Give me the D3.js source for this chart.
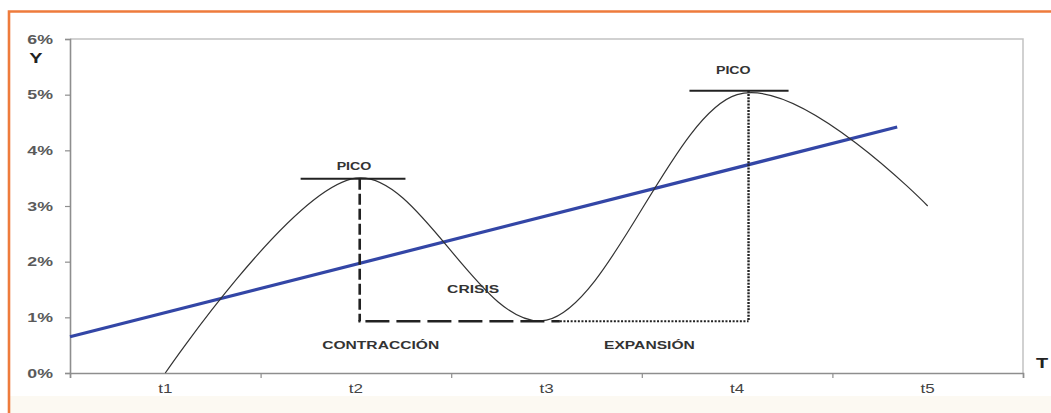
<!DOCTYPE html>
<html>
<head>
<meta charset="utf-8">
<script src="https://cdn.jsdelivr.net/npm/d3@7"></script>
<style>
  html, body { margin: 0; padding: 0; background: #ffffff; }
  svg { display: block; }
  text { font-family: "Liberation Sans", Arial, sans-serif; }
</style>
</head>
<body>
<svg id="chart" width="1051" height="413"></svg>
<script>
// ---- data ----
const categories = ["t1", "t2", "t3", "t4", "t5"];
const cycleValues = [0, 3.5, 0.95, 5.0, 3.0];          // % (smoothed line)
const trendT = [0.5, 4.84];                            // position along T (category index, 1 = t1)
const trendValues = [0.65, 4.42];                      // %
const yTicks = [0, 1, 2, 3, 4, 5, 6];
const yTickLabels = ["0%", "1%", "2%", "3%", "4%", "5%", "6%"];

// peak markers (t position, value) and trough level
const peakT = [2.02, 4.06];
const peakV = [3.49, 5.07];
const peakBarCenter = [1.985, 4.01];
const peakBarHalf = [0.275, 0.26];
const troughV = 0.93;
const contractionEndT = 3.07;

// annotations
const annText = ["PICO", "PICO", "CRISIS", "CONTRACCIÓN", "EXPANSIÓN"];
const annT = [1.99, 3.98, 2.615, 2.13, 3.54];
const annV = [3.65, 5.37, 1.44, 0.44, 0.44];
const annSize = [10, 10, 11, 11, 11];

// ---- layout ----
const svg = d3.select("#chart");
const W = 1051, H = 413;
const plot = { left: 70, right: 1023, top: 39, bottom: 373 };
const SX = 1.42; // horizontal text stretch of the original

const xBand = d3.scaleBand().domain(categories).range([plot.left, plot.right]);
const x = d3.scaleLinear().domain([0.5, categories.length + 0.5]).range([plot.left, plot.right]);
const y = d3.scaleLinear().domain([0, 6]).range([plot.bottom, plot.top]);

// background pieces
svg.append("rect").attr("x", 0).attr("y", 0).attr("width", W).attr("height", H).attr("fill", "#ffffff");
svg.append("rect").attr("x", 10).attr("y", 396).attr("width", W - 10).attr("height", H - 396).attr("fill", "#fcf9f2");

// orange frame
svg.append("path")
  .attr("d", `M9,${H} L9,11.5 L${W},11.5`)
  .attr("fill", "none").attr("stroke", "#ee7b3c").attr("stroke-width", 2.6);

// plot frame (top / right)
svg.append("path")
  .attr("d", `M${plot.left},${plot.top} L${plot.right},${plot.top} L${plot.right},${plot.bottom}`)
  .attr("fill", "none").attr("stroke", "#c2c2c2").attr("stroke-width", 1.5);

// stretched text helper
function stext(g, str, px, py, opts) {
  const gg = g.append("g").attr("transform", `translate(${px},${py}) scale(${opts.sx || SX},1)`);
  return gg.append("text")
    .attr("text-anchor", opts.anchor || "middle")
    .attr("font-size", opts.size)
    .attr("font-weight", opts.weight || "bold")
    .attr("fill", opts.fill || "#333")
    .text(str);
}

// y axis
const yAxis = d3.axisLeft(y).tickValues(yTicks).tickSize(5).tickFormat("");
const gy = svg.append("g").attr("transform", `translate(${plot.left},0)`).call(yAxis);
gy.select(".domain").attr("stroke", "#8e8e8e").attr("stroke-width", 1.6);
gy.selectAll(".tick line").attr("stroke", "#8e8e8e").attr("stroke-width", 1.2);
const gyl = svg.append("g");
yTicks.forEach((t, i) => {
  stext(gyl, yTickLabels[i], 53, y(t) + 4.5, { size: 12.5, anchor: "end", fill: "#5a5a5a" });
});

// x axis: tick marks at category boundaries, labels at centres
const xAxis = d3.axisBottom(x).tickValues(d3.range(0.5, categories.length + 1, 1)).tickSize(5).tickFormat("");
const gx = svg.append("g").attr("transform", `translate(0,${plot.bottom})`).call(xAxis);
gx.select(".domain").attr("stroke", "#8e8e8e").attr("stroke-width", 1.6);
gx.selectAll(".tick line").attr("stroke", "#8e8e8e").attr("stroke-width", 1.2);
const gxl = svg.append("g");
categories.forEach(c => {
  stext(gxl, c, xBand(c) + xBand.bandwidth() / 2, 392.5, { size: 12, weight: "normal", fill: "#444" });
});

// axis titles
stext(svg, "Y", 36, 63, { size: 14, fill: "#222" });
stext(svg, "T", 1042, 368, { size: 14, fill: "#222" });

// trend line
const trendData = trendT.map((t, i) => ({ t, v: trendValues[i] }));
svg.append("path")
  .datum(trendData)
  .attr("d", d3.line().x(d => x(d.t)).y(d => y(d.v)))
  .attr("fill", "none").attr("stroke", "#3346a6").attr("stroke-width", 3.2)
  .attr("stroke-linecap", "butt");

// cycle (smoothed, Excel-like)
const cycleData = cycleValues.map((v, i) => ({ t: i + 1, v }));
svg.append("path")
  .datum(cycleData)
  .attr("d", d3.line().x(d => x(d.t)).y(d => y(d.v)).curve(d3.curveCardinal.tension(0)))
  .attr("fill", "none").attr("stroke", "#333").attr("stroke-width", 1.2);

// peak bars
peakBarCenter.forEach((t, i) => {
  svg.append("line")
    .attr("x1", x(t - peakBarHalf[i])).attr("x2", x(t + peakBarHalf[i]))
    .attr("y1", y(peakV[i])).attr("y2", y(peakV[i]))
    .attr("stroke", "#222").attr("stroke-width", 2);
});

// contraction (dashed) lines
svg.append("line")
  .attr("x1", x(peakT[0])).attr("x2", x(peakT[0]))
  .attr("y1", y(peakV[0])).attr("y2", y(troughV))
  .attr("stroke", "#222").attr("stroke-width", 2.6).attr("stroke-dasharray", "11,4");
svg.append("line")
  .attr("x1", x(peakT[0]) - 1.3).attr("x2", x(contractionEndT))
  .attr("y1", y(troughV)).attr("y2", y(troughV))
  .attr("stroke", "#222").attr("stroke-width", 2.6).attr("stroke-dasharray", "2,5,24,7,24,7,24,7,24,7,24,7,24,7,24,7");

// expansion (dotted) lines
svg.append("line")
  .attr("x1", x(contractionEndT)).attr("x2", x(peakT[1]))
  .attr("y1", y(troughV)).attr("y2", y(troughV))
  .attr("stroke", "#222").attr("stroke-width", 2).attr("stroke-dasharray", "2,1.6");
svg.append("line")
  .attr("x1", x(peakT[1])).attr("x2", x(peakT[1]))
  .attr("y1", y(peakV[1])).attr("y2", y(troughV))
  .attr("stroke", "#222").attr("stroke-width", 2.4).attr("stroke-dasharray", "2,1.2");

// annotations
annText.forEach((s, i) => {
  stext(svg, s, x(annT[i]), y(annV[i]), { size: annSize[i], fill: "#333" });
});
</script>
</body>
</html>
